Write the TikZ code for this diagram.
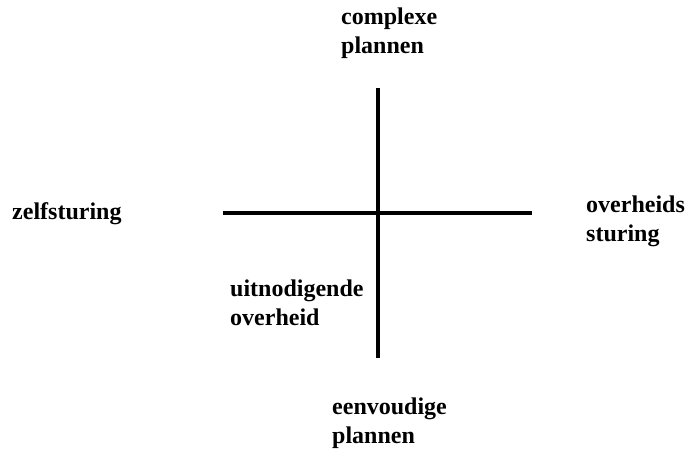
\documentclass[tikz,border=0pt]{standalone}
\usepackage{fontspec}
\setmainfont{Liberation Serif}
\begin{document}
\begin{tikzpicture}[x=1pt,y=-1pt,
  lbl/.style={anchor=base west,inner sep=0pt,align=left,font=\fontsize{24}{28.5}\selectfont\bfseries},
  axis/.style={line width=4pt,black}]
\useasboundingbox[fill=white] (0,0) rectangle (686,450);
\coordinate (hl) at (223,213);
\coordinate (hr) at (532,213);
\coordinate (vt) at (378,88);
\coordinate (vb) at (378,358);
\draw[axis] (hl) -- (hr);
\draw[axis] (vt) -- (vb);
\node[lbl] (top) at (341,53) {complexe\\plannen};
\node[lbl] (left) at (12,219) {zelfsturing};
\node[lbl] (right) at (586,241) {overheids\\sturing};
\node[lbl] (inner) at (230,325) {uitnodigende\\overheid};
\node[lbl] (bottom) at (332,443) {eenvoudige\\plannen};
\end{tikzpicture}
\end{document}
